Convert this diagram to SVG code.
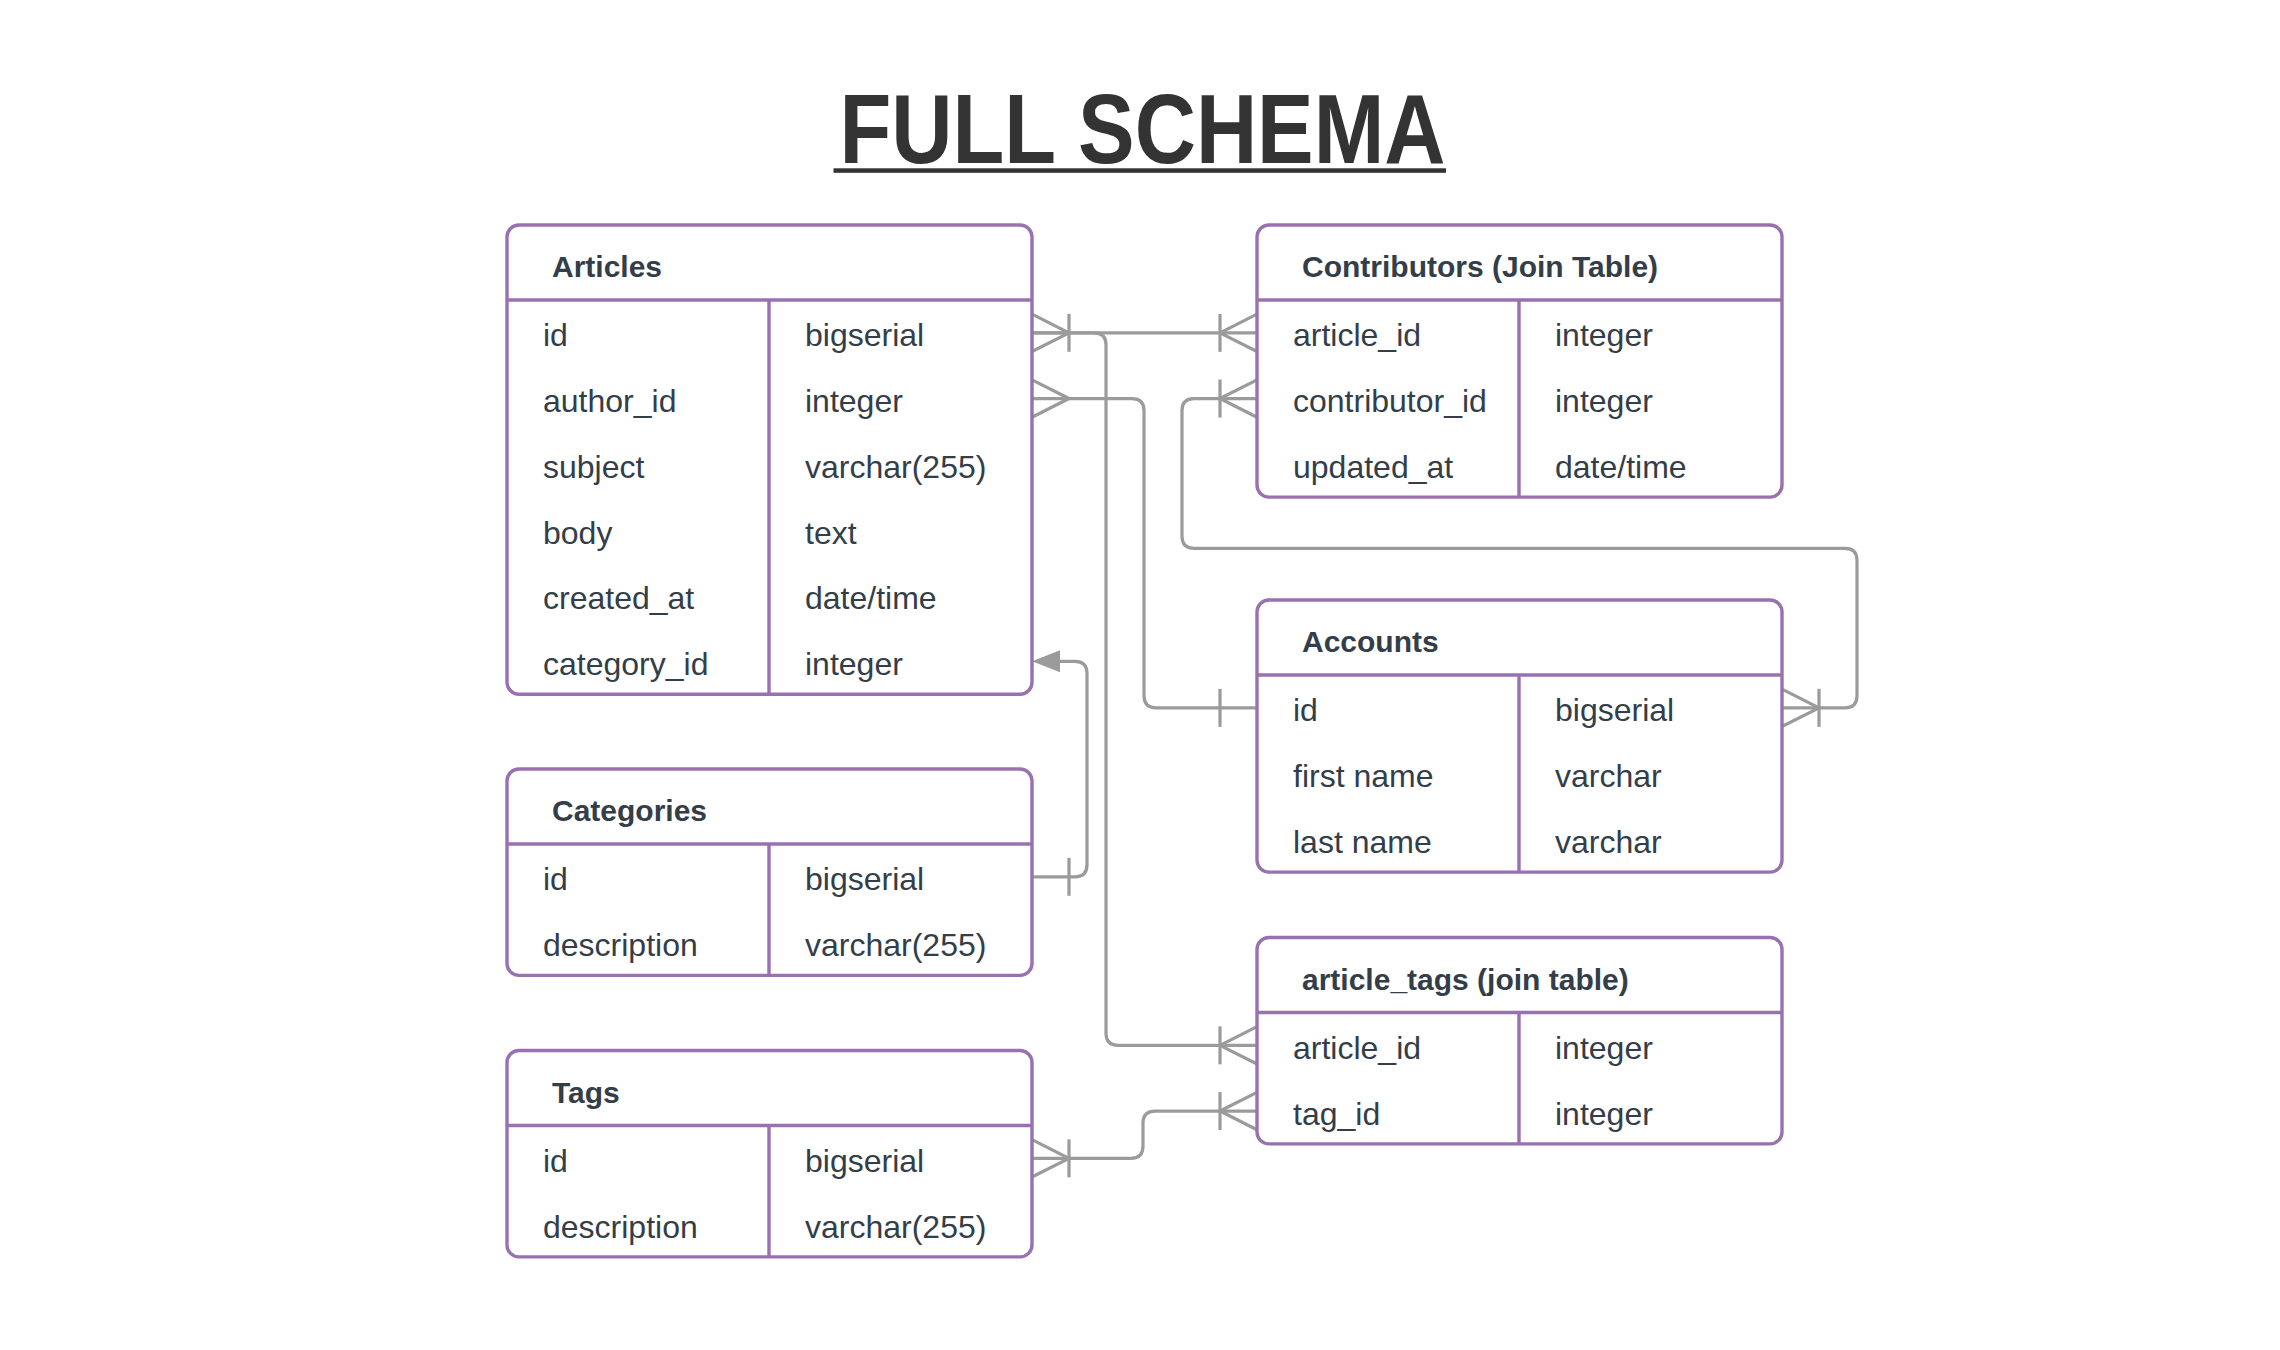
<svg xmlns="http://www.w3.org/2000/svg" xmlns:xlink="http://www.w3.org/1999/xlink" width="2280" height="1350" viewBox="0 0 2280 1350">
<style>
.box{fill:#ffffff;stroke:#9a71b0;stroke-width:3.4}
.div{stroke:#9a71b0;stroke-width:3.4;fill:none}
.hdr{font-family:"Liberation Sans",Arial,sans-serif;font-weight:bold;font-size:30px;fill:#333e49}
.cell{font-family:"Liberation Sans",Arial,sans-serif;font-size:32px;fill:#333e49}
.title{font-family:"Liberation Sans",Arial,sans-serif;font-weight:bold;font-size:98px;fill:#333333}
.con{fill:none;stroke:#9b9b9b;stroke-width:3.2;stroke-linejoin:round}
.arrow{fill:#9b9b9b;stroke:none}
</style>
<defs>
<path id="crow" d="M0,-18.7 L37,0 M0,18.7 L37,0"/>
<path id="bar" d="M37,-19 V19"/>
</defs>
<rect width="2280" height="1350" fill="#ffffff"/>
<g id="title">
<text class="title" x="839.5" y="163.3" textLength="606" lengthAdjust="spacingAndGlyphs">FULL SCHEMA</text>
<rect x="833.5" y="168.3" width="612.5" height="4.5" fill="#333333"/>
</g>
<g id="connectors" class="con">
<!-- Articles.id - Contributors.article_id -->
<path d="M1032,332.85 H1257"/>
<!-- Articles.id - article_tags.article_id -->
<path d="M1032,332.85 H1094 Q1106,332.85 1106,344.85 V1033.35 Q1106,1045.35 1118,1045.35 H1257"/>
<!-- Articles.author_id - Accounts.id -->
<path d="M1032,398.55 H1132 Q1144,398.55 1144,410.55 V695.85 Q1144,707.85 1156,707.85 H1257"/>
<!-- Contributors.contributor_id - Accounts.id -->
<path d="M1257,398.55 H1194 Q1182,398.55 1182,410.55 V536.3 Q1182,548.3 1194,548.3 H1845 Q1857,548.3 1857,560.3 V695.85 Q1857,707.85 1845,707.85 H1782"/>
<!-- Categories.id - Articles.category_id -->
<path d="M1032,876.85 H1075 Q1087,876.85 1087,864.85 V673.35 Q1087,661.35 1075,661.35 H1058"/>
<polygon class="arrow" points="1032,661.35 1060,650.35 1060,672.35"/>
<!-- Tags.id - article_tags.tag_id -->
<path d="M1032,1158.35 H1131 Q1143,1158.35 1143,1146.35 V1123.05 Q1143,1111.05 1155,1111.05 H1257"/>
<!-- cardinality symbols -->
<use xlink:href="#crow" href="#crow" transform="translate(1032,332.85)"/>
<use xlink:href="#bar" href="#bar" transform="translate(1032,332.85)"/>
<use xlink:href="#crow" href="#crow" transform="translate(1257,332.85) scale(-1,1)"/>
<use xlink:href="#bar" href="#bar" transform="translate(1257,332.85) scale(-1,1)"/>
<use xlink:href="#crow" href="#crow" transform="translate(1257,1045.35) scale(-1,1)"/>
<use xlink:href="#bar" href="#bar" transform="translate(1257,1045.35) scale(-1,1)"/>
<use xlink:href="#crow" href="#crow" transform="translate(1032,398.55)"/>
<use xlink:href="#bar" href="#bar" transform="translate(1257,707.85) scale(-1,1)"/>
<use xlink:href="#crow" href="#crow" transform="translate(1257,398.55) scale(-1,1)"/>
<use xlink:href="#bar" href="#bar" transform="translate(1257,398.55) scale(-1,1)"/>
<use xlink:href="#crow" href="#crow" transform="translate(1782,707.85)"/>
<use xlink:href="#bar" href="#bar" transform="translate(1782,707.85)"/>
<use xlink:href="#bar" href="#bar" transform="translate(1032,876.85)"/>
<use xlink:href="#crow" href="#crow" transform="translate(1032,1158.35)"/>
<use xlink:href="#bar" href="#bar" transform="translate(1032,1158.35)"/>
<use xlink:href="#crow" href="#crow" transform="translate(1257,1111.05) scale(-1,1)"/>
<use xlink:href="#bar" href="#bar" transform="translate(1257,1111.05) scale(-1,1)"/>
</g>
<g id="articles">
<rect class="box" x="507" y="225" width="525" height="469.2" rx="12"/>
<path class="div" d="M507,300 H1032 M769,300 V694.2"/>
<text class="hdr" x="552" y="277">Articles</text>
<text class="cell" x="543" y="346.4">id</text><text class="cell" x="805" y="346.4">bigserial</text>
<text class="cell" x="543" y="412.1">author_id</text><text class="cell" x="805" y="412.1">integer</text>
<text class="cell" x="543" y="477.8">subject</text><text class="cell" x="805" y="477.8">varchar(255)</text>
<text class="cell" x="543" y="543.5">body</text><text class="cell" x="805" y="543.5">text</text>
<text class="cell" x="543" y="609.2">created_at</text><text class="cell" x="805" y="609.2">date/time</text>
<text class="cell" x="543" y="674.9">category_id</text><text class="cell" x="805" y="674.9">integer</text>
</g>
<g id="contributors">
<rect class="box" x="1257" y="225" width="525" height="272.1" rx="12"/>
<path class="div" d="M1257,300 H1782 M1519,300 V497.1"/>
<text class="hdr" x="1302" y="277">Contributors (Join Table)</text>
<text class="cell" x="1293" y="346.4">article_id</text><text class="cell" x="1555" y="346.4">integer</text>
<text class="cell" x="1293" y="412.1">contributor_id</text><text class="cell" x="1555" y="412.1">integer</text>
<text class="cell" x="1293" y="477.8">updated_at</text><text class="cell" x="1555" y="477.8">date/time</text>
</g>
<g id="accounts">
<rect class="box" x="1257" y="600" width="525" height="272.1" rx="12"/>
<path class="div" d="M1257,675 H1782 M1519,675 V872.1"/>
<text class="hdr" x="1302" y="652">Accounts</text>
<text class="cell" x="1293" y="721.4">id</text><text class="cell" x="1555" y="721.4">bigserial</text>
<text class="cell" x="1293" y="787.1">first name</text><text class="cell" x="1555" y="787.1">varchar</text>
<text class="cell" x="1293" y="852.8">last name</text><text class="cell" x="1555" y="852.8">varchar</text>
</g>
<g id="categories">
<rect class="box" x="507" y="769" width="525" height="206.4" rx="12"/>
<path class="div" d="M507,844 H1032 M769,844 V975.4"/>
<text class="hdr" x="552" y="821">Categories</text>
<text class="cell" x="543" y="890.4">id</text><text class="cell" x="805" y="890.4">bigserial</text>
<text class="cell" x="543" y="956.1">description</text><text class="cell" x="805" y="956.1">varchar(255)</text>
</g>
<g id="tags">
<rect class="box" x="507" y="1050.5" width="525" height="206.4" rx="12"/>
<path class="div" d="M507,1125.5 H1032 M769,1125.5 V1256.9"/>
<text class="hdr" x="552" y="1102.5">Tags</text>
<text class="cell" x="543" y="1171.9">id</text><text class="cell" x="805" y="1171.9">bigserial</text>
<text class="cell" x="543" y="1237.6">description</text><text class="cell" x="805" y="1237.6">varchar(255)</text>
</g>
<g id="article_tags">
<rect class="box" x="1257" y="937.5" width="525" height="206.4" rx="12"/>
<path class="div" d="M1257,1012.5 H1782 M1519,1012.5 V1143.9"/>
<text class="hdr" x="1302" y="989.5">article_tags (join table)</text>
<text class="cell" x="1293" y="1058.9">article_id</text><text class="cell" x="1555" y="1058.9">integer</text>
<text class="cell" x="1293" y="1124.6">tag_id</text><text class="cell" x="1555" y="1124.6">integer</text>
</g>
</svg>
